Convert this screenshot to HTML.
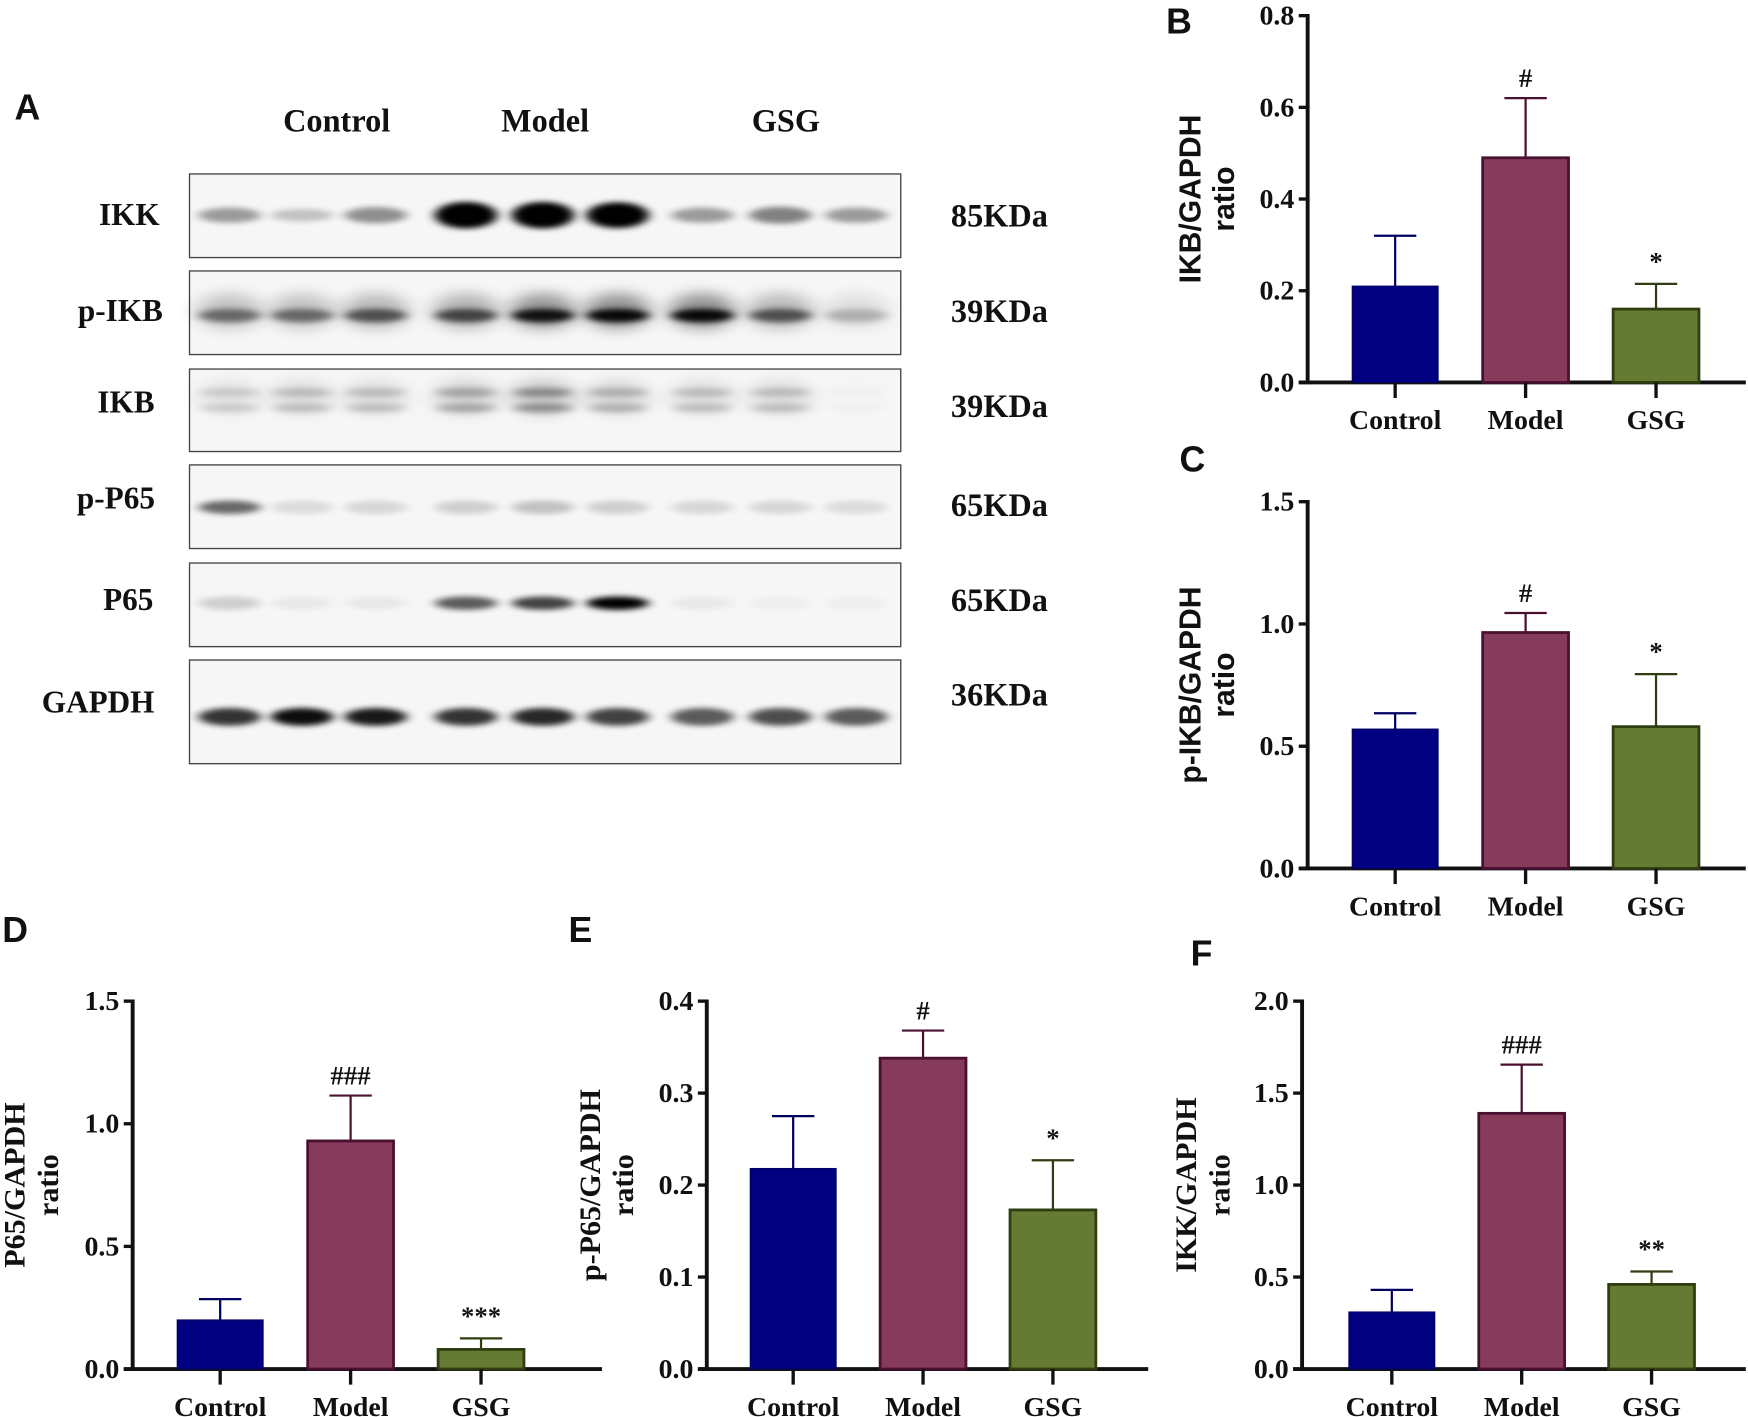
<!DOCTYPE html>
<html><head><meta charset="utf-8"><style>
html,body{margin:0;padding:0;background:#fff;}
svg{display:block;}
.t{font-family:"Liberation Serif",serif;font-weight:bold;fill:#111;}
.s{font-family:"Liberation Sans",sans-serif;font-weight:bold;fill:#111;}
</style></head><body>
<svg id="fig" width="1748" height="1417" viewBox="0 0 1568 1271" xmlns="http://www.w3.org/2000/svg">
<defs><filter id="blur" x="-50%" y="-100%" width="200%" height="300%"><feGaussianBlur stdDeviation="5 2.5"/></filter>
<filter id="blur2" x="-50%" y="-100%" width="200%" height="300%"><feGaussianBlur stdDeviation="9 6"/></filter></defs>
<g id="blot"></g>
<g id="charts"></g>
</svg>
<script>
const NS="http://www.w3.org/2000/svg";
const svg=document.getElementById('fig');
function mk(tag,attrs,parent,text){const e=document.createElementNS(NS,tag);for(const k in attrs)e.setAttribute(k,attrs[k]);if(text!==undefined)e.textContent=text;(parent||svg).appendChild(e);return e;}

// ---------- Western blot ----------
const blotRows=["IKK","p-IKB","IKB","p-P65","P65","GAPDH"];
const blotKDa=["85KDa","39KDa","39KDa","65KDa","65KDa","36KDa"];
const blotIntensity=[
 [0.35,0.2,0.4,1,1,0.95,0.35,0.45,0.35],
 [0.45,0.45,0.55,0.6,0.85,0.9,0.9,0.55,0.2],
 [0.15,0.2,0.2,0.3,0.4,0.25,0.2,0.2,0.02],
 [0.55,0.1,0.12,0.15,0.2,0.15,0.12,0.12,0.1],
 [0.15,0.05,0.05,0.6,0.7,0.95,0.05,0.03,0.03],
 [0.75,0.9,0.85,0.75,0.8,0.7,0.6,0.65,0.6]];
const boxY=[[156,231],[243,318],[331,405],[417,492],[505,580],[592,685]];
const laneX=[206,271,337,418,487,554,630,700,768];
const bandY=[193,283,360,455,541,643];
const labelCX=[116,108,113,104,115,88];
const labelCY=[193,279,361,447,538,630];
const kdaCY=[193,279,364,453,538,623];
const blot=document.getElementById('blot');
let a=mk('text',{x:13,y:107,class:'s','font-size':32},blot,'A');


[["Control",302],["Model",489],["GSG",705]].forEach(([t,x])=>{
 const e=mk('text',{x:x,y:118,class:'t','font-size':29,'text-anchor':'middle'},blot,t);
 
 
});
blotRows.forEach((r,i)=>{
 const g=mk('g',{},blot);
 
 
 const [y0,y1]=boxY[i];
 mk('rect',{x:170,y:y0,width:638,height:y1-y0,fill:'#f6f6f6',stroke:'#444','stroke-width':1.2},g);
 laneX.forEach((x,j)=>{
  const v=blotIntensity[i][j];
  if(i===1||i===2){
   mk('ellipse',{cx:x,cy:bandY[i]-4,rx:30,ry:16,fill:'#000',opacity:v*0.45,filter:'url(#blur2)'},g);
  }
  if(i===2){
   mk('ellipse',{cx:x,cy:bandY[i]-8,rx:27,ry:4,fill:'#000',opacity:v*0.8,filter:'url(#blur)'},g);
   mk('ellipse',{cx:x,cy:bandY[i]+6,rx:27,ry:4,fill:'#000',opacity:v*0.8,filter:'url(#blur)'},g);
  } else {
   const ry=i===5?8:(i===0?4+8*v:6);
   mk('ellipse',{cx:x,cy:bandY[i],rx:28,ry:ry,fill:'#000',opacity:Math.min(1,v*1.05),filter:'url(#blur)'},g);
  }
 });
 const l=mk('text',{x:labelCX[i],y:labelCY[i]+9,class:'t','font-size':28,'text-anchor':'middle'},g,r);
 
 
 const k=mk('text',{x:853,y:kdaCY[i]+10,class:'t','font-size':29},g,blotKDa[i]);
 
 
});

// ---------- Bar charts ----------
const categories=["Control","Model","GSG"];
const ikbMeans=[0.21,0.49,0.16], ikbErr=[0.32,0.62,0.215], ikbTicks=[0,0.2,0.4,0.6,0.8], ikbSig=["","#","*"];
const pikbMeans=[0.57,0.965,0.58], pikbErr=[0.635,1.045,0.795], pikbTicks=[0,0.5,1.0,1.5], pikbSig=["","#","*"];
const p65Means=[0.2,0.93,0.08], p65Err=[0.285,1.115,0.125], p65Ticks=[0,0.5,1.0,1.5], p65Sig=["","###","***"];
const pp65Means=[0.218,0.338,0.173], pp65Err=[0.275,0.368,0.227], pp65Ticks=[0,0.1,0.2,0.3,0.4], pp65Sig=["","#","*"];
const ikkMeans=[0.31,1.39,0.46], ikkErr=[0.43,1.655,0.53], ikkTicks=[0,0.5,1.0,1.5,2.0], ikkSig=["","###","**"];
const fills=["#000080","#873b5b","#657a33"], strokes=["#000060","#4a1030","#2f3d10"];

function chart(o){
 const g=mk('g',{},document.getElementById('charts'));
 
 
 const max=o.ticks[o.ticks.length-1];
 const yS=v=>o.y0-(v/max)*(o.y0-o.yTop);
 const xS=i=>o.x0+o.bar0+i*o.step;
 const L=mk('text',{x:o.lx,y:o.ly,class:'s','font-size':32},g,o.letter);
 
 
 o.ticks.forEach(t=>{
  mk('line',{x1:o.x0-8,x2:o.x0,y1:yS(t),y2:yS(t),stroke:'#111','stroke-width':3},g);
  const tl=mk('text',{x:o.x0-12,y:yS(t)+8,class:'t','font-size':25,'text-anchor':'end'},g,t.toFixed(1));
  
  
 });
 mk('line',{x1:o.x0,x2:o.x0,y1:o.yTop-1.5,y2:o.y0+1.5,stroke:'#111','stroke-width':3.5},g);
 mk('line',{x1:o.x0-8,x2:o.xEnd,y1:o.y0,y2:o.y0,stroke:'#111','stroke-width':3.5},g);
 const tx=o.titleX, ty=(o.y0+o.yTop)/2;
 const T=mk('text',{x:0,y:0,class:o.sans?'s':'t','font-size':27,'text-anchor':'middle',transform:`translate(${tx},${ty}) rotate(-90)`},g,o.title);
 
 
 const R=mk('text',{x:0,y:0,class:o.sans?'s':'t','font-size':27,'text-anchor':'middle',transform:`translate(${tx+30},${ty}) rotate(-90)`},g,'ratio');
 
 
 categories.forEach((c,i)=>{
  const x=xS(i), w=77, cx=x+w/2;
  const top=yS(o.means[i]), et=yS(o.err[i]);
  mk('line',{x1:cx,x2:cx,y1:et,y2:top,stroke:strokes[i],'stroke-width':2},g);
  mk('line',{x1:cx-19,x2:cx+19,y1:et,y2:et,stroke:strokes[i],'stroke-width':2},g);
  const b=mk('rect',{x:x,y:top,width:w,height:o.y0-top,fill:fills[i],stroke:strokes[i],'stroke-width':i===0?1:2.5},g);
  
  
  mk('line',{x1:cx,x2:cx,y1:o.y0,y2:o.y0+14,stroke:'#111','stroke-width':3},g);
  const cl=mk('text',{x:cx,y:o.y0+42,class:'t','font-size':25,'text-anchor':'middle'},g,c);
  
  
  if(o.sig[i]){
   const s=mk('text',{x:cx,y:et-(o.sig[i][0]==='*'?12:10),class:'t','font-size':24,'text-anchor':'middle'},g,o.sig[i]);
   
   
  }
 });
}
chart({name:'chart-b-ikb',letter:'B',lx:1046,ly:30,x0:1173,yTop:14,y0:343,xEnd:1566,bar0:40,step:117,ticks:ikbTicks,means:ikbMeans,err:ikbErr,sig:ikbSig,title:'IKB/GAPDH',titleX:1077,sans:true});
chart({name:'chart-c-pikb',letter:'C',lx:1058,ly:423,x0:1173,yTop:450,y0:779,xEnd:1566,bar0:40,step:117,ticks:pikbTicks,means:pikbMeans,err:pikbErr,sig:pikbSig,title:'p-IKB/GAPDH',titleX:1077,sans:true});
chart({name:'chart-d-p65',letter:'D',lx:2,ly:845,x0:119,yTop:898,y0:1228,xEnd:540,bar0:40,step:117,ticks:p65Ticks,means:p65Means,err:p65Err,sig:p65Sig,title:'P65/GAPDH',titleX:22});
chart({name:'chart-e-pp65',letter:'E',lx:510,ly:845,x0:634,yTop:898,y0:1228,xEnd:1030,bar0:39,step:116.5,ticks:pp65Ticks,means:pp65Means,err:pp65Err,sig:pp65Sig,title:'p-P65/GAPDH',titleX:538});
chart({name:'chart-f-ikk',letter:'F',lx:1068,ly:866,x0:1168,yTop:898,y0:1228,xEnd:1566,bar0:42,step:116.5,ticks:ikkTicks,means:ikkMeans,err:ikkErr,sig:ikkSig,title:'IKK/GAPDH',titleX:1073});
</script>
</body></html>
